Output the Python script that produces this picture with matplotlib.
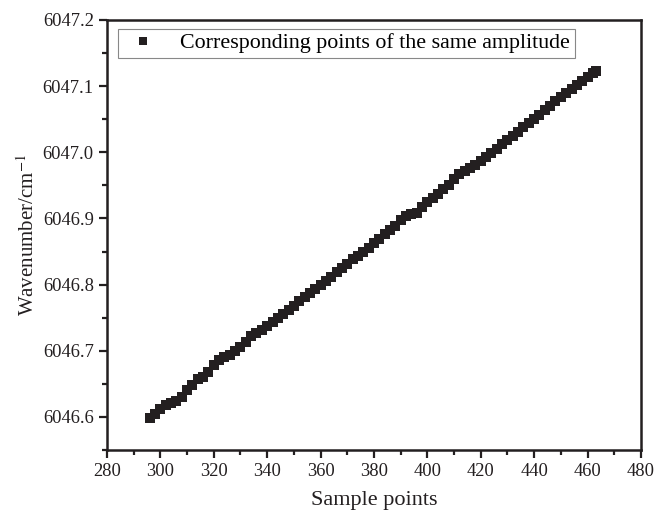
import matplotlib as mpl
mpl.use('Agg')
import matplotlib.pyplot as plt
from matplotlib.ticker import MultipleLocator, FormatStrFormatter

plt.rcParams['font.family'] = ['Liberation Serif', 'DejaVu Serif']
plt.rcParams['mathtext.fontset'] = 'stix'

# sample index of each matched point
sample = [296, 298, 300, 302, 304, 306, 308, 310, 312, 314, 316, 318, 320, 322,
          324, 326, 328, 330, 332, 334, 336, 338, 340, 342, 344, 346, 348, 350,
          352, 354, 356, 358, 360, 362, 364, 366, 368, 370, 372, 374, 376, 378,
          380, 382, 384, 386, 388, 390, 392, 394, 396, 398, 400, 402, 404, 406,
          408, 410, 412, 414, 416, 418, 420, 422, 424, 426, 428, 430, 432, 434,
          436, 438, 440, 442, 444, 446, 448, 450, 452, 454, 456, 458, 460, 462,
          463]

# wavenumber (cm^-1) at those points
wavenum = [6046.598, 6046.605, 6046.612, 6046.618, 6046.621, 6046.624, 6046.630,
           6046.640, 6046.649, 6046.657, 6046.660, 6046.668, 6046.678, 6046.686,
           6046.690, 6046.693, 6046.699, 6046.706, 6046.714, 6046.722, 6046.727,
           6046.732, 6046.738, 6046.744, 6046.750, 6046.756, 6046.762, 6046.768,
           6046.775, 6046.781, 6046.787, 6046.793, 6046.799, 6046.806, 6046.812,
           6046.819, 6046.825, 6046.831, 6046.838, 6046.844, 6046.850, 6046.856,
           6046.863, 6046.869, 6046.876, 6046.882, 6046.889, 6046.897, 6046.903,
           6046.906, 6046.909, 6046.917, 6046.925, 6046.931, 6046.937, 6046.944,
           6046.951, 6046.959, 6046.967, 6046.971, 6046.976, 6046.981, 6046.987,
           6046.993, 6046.999, 6047.005, 6047.012, 6047.018, 6047.025, 6047.031,
           6047.038, 6047.044, 6047.051, 6047.057, 6047.064, 6047.070, 6047.077,
           6047.083, 6047.089, 6047.095, 6047.101, 6047.108, 6047.114, 6047.120,
           6047.123]

fig = plt.figure(figsize=(6.54, 5.12), dpi=100)
ax = fig.add_axes([0.1636, 0.121, 0.8164, 0.840])

ax.plot(sample, wavenum, 's', color='#231f20', markersize=6.8, markeredgewidth=0,
        label='Corresponding points of the same amplitude')

ax.set_xlim(280, 480)
ax.set_ylim(6046.55, 6047.2)
ax.xaxis.set_major_locator(MultipleLocator(20))
ax.xaxis.set_minor_locator(MultipleLocator(10))
ax.yaxis.set_major_locator(MultipleLocator(0.1))
ax.yaxis.set_minor_locator(MultipleLocator(0.05))
ax.yaxis.set_major_formatter(FormatStrFormatter('%.1f'))

ax.tick_params(which='both', direction='out', top=False, right=False,
               width=1.6, labelsize=13.3, colors='#231f20')
ax.tick_params(which='major', length=6)
ax.tick_params(which='minor', length=3.5)
for s in ax.spines.values():
    s.set_linewidth(1.8)
    s.set_color('#231f20')

ax.set_xlabel('Sample points', fontsize=16, color='#231f20', labelpad=8)
ax.set_ylabel('Wavenumber/cm$^{-1}$', fontsize=15, color='#231f20', labelpad=3)

leg = ax.legend(loc='upper left', bbox_to_anchor=(0.012, 0.99), fontsize=15.8,
                fancybox=False, framealpha=1, edgecolor='#888888',
                borderpad=0.2, handletextpad=0.75, markerscale=0.8,
                borderaxespad=0.2, handlelength=1.9)
leg.get_frame().set_linewidth(0.8)

fig.savefig('out.png', dpi=100)
